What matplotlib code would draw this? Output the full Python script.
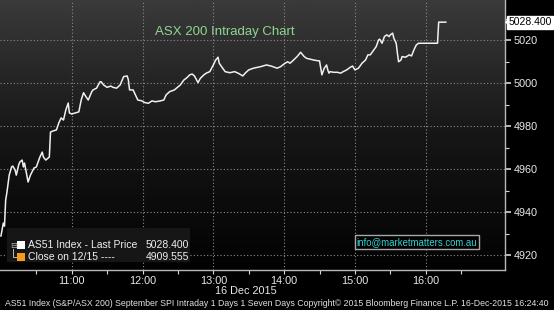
import numpy as np
import matplotlib
matplotlib.use("Agg")
import matplotlib.pyplot as plt
from matplotlib.patches import Rectangle, Polygon
from matplotlib.colors import LinearSegmentedColormap
import matplotlib.transforms as mtransforms

# ---------------- data ----------------
times = ["10:00", "10:02", "10:03", "10:04", "10:05", "10:07", "10:09", "10:10", "10:12", "10:13",
         "10:15", "10:16", "10:18", "10:19", "10:20", "10:23", "10:25", "10:28", "10:30", "10:33",
         "10:35", "10:36", "10:38", "10:41", "10:42", "10:44", "10:47", "10:49", "10:51", "10:53",
         "10:55", "10:57", "10:58", "11:00", "11:03", "11:06", "11:08", "11:10", "11:12", "11:14",
         "11:17", "11:18", "11:21", "11:24", "11:25", "11:27", "11:30", "11:33", "11:35", "11:38",
         "11:41", "11:44", "11:47", "11:48", "11:49", "11:52", "11:54", "11:56", "11:59", "12:02",
         "12:05", "12:08", "12:11", "12:15", "12:18", "12:20", "12:23", "12:27", "12:32", "12:35",
         "12:37", "12:40", "12:42", "12:44", "12:47", "12:49", "12:52", "12:54", "12:57", "13:00",
         "13:02", "13:04", "13:05", "13:07", "13:10", "13:14", "13:18", "13:21", "13:25", "13:27",
         "13:30", "13:34", "13:40", "13:45", "13:49", "13:54", "13:57", "14:00", "14:03", "14:05",
         "14:08", "14:11", "14:14", "14:17", "14:19", "14:22", "14:25", "14:28", "14:30", "14:32",
         "14:34", "14:36", "14:37", "14:38", "14:39", "14:42", "14:45", "14:48", "14:50", "14:53",
         "14:56", "14:58", "15:00", "15:03", "15:06", "15:09", "15:11", "15:13", "15:16", "15:18",
         "15:20", "15:21", "15:23", "15:25", "15:27", "15:29", "15:30", "15:32", "15:33", "15:35",
         "15:36", "15:37", "15:39", "15:40", "15:43", "15:46", "15:48", "15:50", "15:52", "15:54",
         "16:10", "16:11", "16:17"]
prices = [4929.0, 4935.0, 4933.6, 4945.7, 4949.0, 4957.3, 4961.1, 4961.5, 4959.7, 4957.3,
          4962.0, 4963.4, 4964.3, 4961.1, 4962.9, 4954.1, 4957.3, 4960.6, 4961.1, 4965.7,
          4968.0, 4965.7, 4964.3, 4965.7, 4977.3, 4977.8, 4978.3, 4981.5, 4983.9, 4982.9,
          4987.6, 4990.8, 4986.2, 4985.7, 4986.2, 4986.7, 4992.2, 4995.6, 4993.8, 4992.2,
          4996.1, 4996.9, 4997.7, 5000.7, 5000.7, 4999.2, 4998.1, 4998.7, 4998.1, 4997.7,
          4999.2, 5003.1, 5003.4, 5001.5, 4996.9, 4996.9, 4994.6, 4992.2, 4991.9, 4991.0,
          4990.7, 4991.8, 4991.4, 4991.8, 4992.2, 4994.6, 4996.1, 4996.9, 4999.2, 5001.5,
          5002.3, 5003.9, 5004.3, 5003.4, 5000.3, 5002.3, 5003.9, 5004.7, 5005.4, 5008.5,
          5010.8, 5012.1, 5009.3, 5007.7, 5005.4, 5004.9, 5005.4, 5004.7, 5003.4, 5004.7,
          5006.2, 5007.0, 5007.7, 5008.5, 5008.0, 5007.0, 5007.7, 5009.0, 5010.0, 5009.3,
          5010.8, 5012.4, 5014.4, 5012.4, 5011.6, 5011.2, 5010.8, 5010.5, 5010.4, 5003.9,
          5007.0, 5008.5, 5006.2, 5004.7, 5005.4, 5005.1, 5005.1, 5004.7, 5005.4, 5006.2,
          5007.4, 5008.0, 5006.2, 5007.0, 5009.3, 5010.8, 5013.2, 5013.2, 5015.5, 5017.0,
          5020.1, 5020.5, 5018.6, 5021.7, 5022.5, 5021.7, 5022.5, 5023.3, 5020.9, 5018.6,
          5014.0, 5010.0, 5010.8, 5012.4, 5012.1, 5013.2, 5012.7, 5015.5, 5017.8, 5018.6,
          5018.6, 5028.4, 5028.4]

hour_labels = ["11:00", "12:00", "13:00", "14:00", "15:00", "16:00"]
y_ticks = [4920, 4940, 4960, 4980, 5000, 5020]
last_price = 5028.400
prev_close = 4909.555

title = "ASX 200 Intraday Chart"
date_label = "16 Dec 2015"
footer = ("AS51 Index (S&P/ASX 200) September SPI Intraday 1 Days 1 Seven Days "
          "Copyright\u00a9 2015 Bloomberg Finance L.P. 16-Dec-2015 16:24:40")
legend_rows = [("AS51 Index - Last Price", "5028.400", "#ffffff"),
               ("Close on 12/15 ----", "4909.555", "#f39c1e")]
info_text = "info@marketmatters.com.au"


def to_min(t):
    h, m = t.split(":")
    return (int(h) - 10) * 60 + int(m)


x = np.array([to_min(t) for t in times], dtype=float)
y = np.array(prices)

# ---------------- figure ----------------
W, H = 554, 310
plt.rcParams['font.family'] = ['Liberation Sans', 'DejaVu Sans']
fig = plt.figure(figsize=(W / 100, H / 100), dpi=100, facecolor='black')


def fx(px):
    return px / W


def fy(py):
    return 1 - py / H


ax = fig.add_axes([0, fy(270), fx(505), 270 / H])
ax.set_facecolor('black')

# gradient background
grad = np.linspace(0, 1, 256).reshape(-1, 1)
cmap = LinearSegmentedColormap.from_list("bg", ["#020202", "#161616", "#3a3a3a"])
ax.imshow(grad, aspect='auto', cmap=cmap, origin='lower',
          extent=[0, 1, 0, 1], transform=ax.transAxes, zorder=0)

ax.set_xlim(-0.8, 427.2)
ax.set_ylim(4913.2, 5038.7)

ax.plot(x, y, color='#f0f0f0', lw=1.1, zorder=3)

# ticks
ax.set_xticks([to_min(t) for t in hour_labels])
ax.set_xticklabels(hour_labels)
ax.set_xticks([to_min(t) + 30 for t in ["10:00"] + hour_labels], minor=True)
ax.set_yticks(y_ticks)
ax.set_yticks([v + 10 for v in y_ticks], minor=True)
ax.yaxis.tick_right()
ax.tick_params(axis='both', which='both', colors='#d8d8d8', labelcolor='#e8e8e8',
               labelsize=7.8, direction='out')
ax.tick_params(axis='y', which='major', length=4, width=1.2, pad=2)
ax.tick_params(axis='y', which='minor', length=3, width=0.8)
ax.tick_params(axis='x', which='major', length=3, width=0.8, pad=1.5)
ax.tick_params(axis='x', which='minor', length=3, width=0.8)

ax.grid(True, which='major', color='#8a8a8a', linestyle=(0, (1, 2)), lw=0.8, zorder=1)

for s in ['left', 'top']:
    ax.spines[s].set_visible(False)
for s in ['right', 'bottom']:
    ax.spines[s].set_color('#b8b8b8')
    ax.spines[s].set_linewidth(1.0)

# title
ax.text(0.446, 0.882, title, transform=ax.transAxes, color='#8fd68f',
        fontsize=9.5, ha='center', va='center', zorder=5)

# last price box
trans = mtransforms.blended_transform_factory(fig.transFigure, ax.transData)
fig.text(fx(530), last_price, f"{last_price:.3f}", transform=trans, color='black',
         fontsize=7.5, ha='center', va='center',
         bbox=dict(boxstyle='square,pad=0.15', facecolor='white', edgecolor='white'))
fig.add_artist(Polygon([[fx(506), last_price], [fx(511), last_price + 2.6],
                        [fx(511), last_price - 2.6]], closed=True, transform=trans,
                       facecolor='white', edgecolor='white'))

# legend box
fig.add_artist(Rectangle((fx(7), fy(262)), fx(190) - fx(7), fy(228) - fy(262),
                         transform=fig.transFigure, facecolor='#161616',
                         edgecolor='none', zorder=4))
fig.text(fx(10), fy(245), "\u229f", color='#bbbbbb', fontsize=6,
         family='DejaVu Sans', ha='left', va='center', zorder=5)
fig.add_artist(matplotlib.lines.Line2D([fx(12.5), fx(12.5), fx(16)],
                                       [fy(249), fy(257), fy(257)],
                                       transform=fig.transFigure, color='#bbbbbb',
                                       lw=0.7, zorder=5))
for i, (lab, val, col) in enumerate(legend_rows):
    yc = 245 + 12 * i
    fig.add_artist(Rectangle((fx(17), fy(yc + 4)), fx(8), fy(0) - fy(8),
                             transform=fig.transFigure, facecolor=col,
                             edgecolor='none', zorder=5))
    fig.text(fx(28), fy(yc), lab, color='#f0f0f0', fontsize=7.5,
             ha='left', va='center', zorder=6)
    fig.text(fx(146), fy(yc), val, color='#f0f0f0', fontsize=7.5,
             ha='left', va='center', zorder=6)

# info box
fig.add_artist(Rectangle((fx(355), fy(249)), fx(124), fy(0) - fy(14),
                         transform=fig.transFigure, facecolor='black',
                         edgecolor='#a8a8a8', lw=1.0, zorder=5))
fig.text(fx(417), fy(242), info_text, color='#36d0d0', fontsize=6.9,
         ha='center', va='center', zorder=6)

# date label and footer
fig.text(fx(246), fy(291), date_label, color='#e8e8e8', fontsize=7.8,
         ha='center', va='center')
fig.text(fx(277), fy(303), footer, color='#e0e0e0', fontsize=6.35,
         ha='center', va='center')

fig.savefig("out.png", dpi=100, facecolor='black')
